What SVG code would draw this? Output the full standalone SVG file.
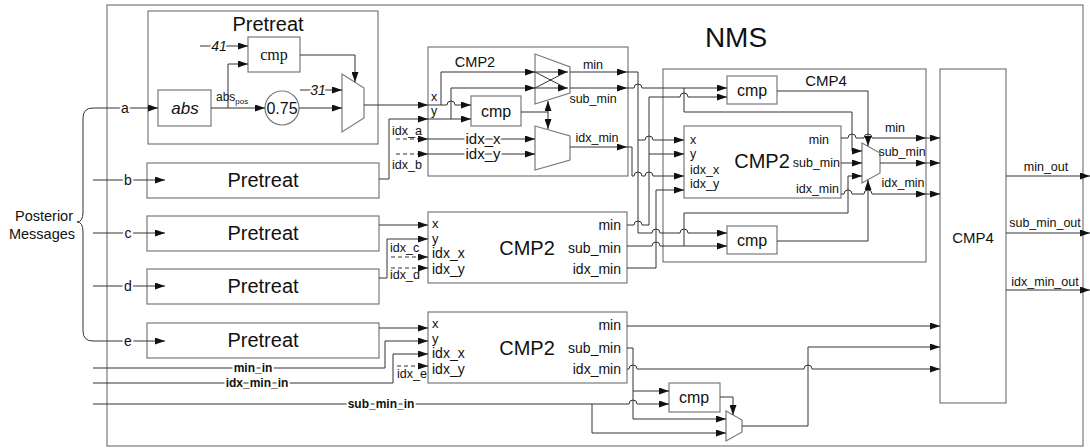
<svg xmlns="http://www.w3.org/2000/svg" width="1090" height="448" viewBox="0 0 1090 448">
<defs>
<style>
.box{fill:none;stroke:#7a7a7a;stroke-width:1.2}
.w{fill:none;stroke:#333;stroke-width:1}
.a{marker-end:url(#ah)}
.d{stroke-dasharray:4 3}
text{font-family:"Liberation Sans",Arial,sans-serif;fill:#111}
.h{stroke:#fff;stroke-width:4;paint-order:stroke;stroke-linejoin:round}
.s12{font-size:12.5px}
.s13{font-size:13px}
.s14{font-size:14px}
.big{font-size:20px}
.m{text-anchor:middle}
.e{text-anchor:end}
.bold{font-weight:bold;font-size:12px}
</style>
<marker id="ah" viewBox="0 0 10 7" refX="10" refY="3.5" markerWidth="10" markerHeight="7" markerUnits="userSpaceOnUse" orient="auto"><path d="M0,0 L10,3.5 L0,7 z" fill="#111"/></marker>
</defs>
<rect width="1090" height="448" fill="#fff"/>

<g id="nms">
<rect class="box" x="107" y="5" width="976" height="441"/>
<text x="736" y="47" class="m" style="font-size:28px">NMS</text>
</g>

<g id="posterior">
<path class="w" d="M93,108 Q83,108 83,118 V212 Q83,222 77,222 Q83,222 83,232 V331 Q83,341 93,341"/>
<text x="44" y="221" class="m" style="font-size:14.5px">Posterior</text>
<text x="42" y="239" class="m" style="font-size:14.5px">Messages</text>
</g>

<g id="pretreat-a">
<rect class="box" x="148" y="11" width="230" height="133"/>
<text x="268" y="31" class="m big">Pretreat</text>
<rect class="box" x="248" y="37" width="52" height="35"/>
<text x="274" y="60" class="m" style="font-family:'Liberation Serif',serif;font-size:16px">cmp</text>
<rect class="box" x="158" y="90" width="53" height="36"/>
<text x="185" y="114" class="m" style="font-size:17px;font-style:italic">abs</text>
<circle class="box" cx="282" cy="108" r="17"/>
<text x="282" y="114" class="m" style="font-size:16px">0.75</text>
<polygon class="box" points="342,74 364,88 364,118 342,132"/>
<text x="216" y="101" style="font-size:12px">abs<tspan style="font-size:8px" dy="3">pos</tspan></text>
</g>

<g id="pretreat-b">
<rect class="box" x="147" y="163" width="232" height="35"/>
<text x="263" y="187" class="m big">Pretreat</text>
</g>
<g id="pretreat-c">
<rect class="box" x="147" y="216" width="232" height="35"/>
<text x="263" y="240" class="m big">Pretreat</text>
</g>
<g id="pretreat-d">
<rect class="box" x="147" y="269" width="232" height="35"/>
<text x="263" y="293" class="m big">Pretreat</text>
</g>
<g id="pretreat-e">
<rect class="box" x="147" y="323" width="232" height="35"/>
<text x="263" y="347" class="m big">Pretreat</text>
</g>

<g id="cmp2-top">
<rect class="box" x="428" y="47" width="200" height="129"/>
<text x="475" y="67" class="m" style="font-size:14.5px">CMP2</text>
<text x="431" y="101" class="s12">x</text>
<text x="431" y="115" class="s12">y</text>
<rect class="box" x="471" y="96" width="50" height="30"/>
<text x="496" y="117" class="m" style="font-size:16px">cmp</text>
<polygon class="box" points="535,54 570,67 570,93 535,104"/>
<polygon class="box" points="535,126 570,136 570,160 535,170"/>
<text x="593" y="69" class="m s12">min</text>
<text x="593" y="103" class="m s12">sub_min</text>
<text x="597" y="142" class="m s12">idx_min</text>
</g>

<g id="cmp2-mid">
<rect class="box" x="428" y="212" width="199" height="71"/>
<text x="432" y="228" class="s13">x</text>
<text x="432" y="243" class="s13">y</text>
<text x="432" y="258" class="s14">idx_x</text>
<text x="432" y="274" class="s14">idx_y</text>
<text x="527" y="255" class="m big">CMP2</text>
<text x="621" y="230" class="e s14">min</text>
<text x="621" y="253" class="e s14">sub_min</text>
<text x="621" y="274" class="e s14">idx_min</text>
</g>

<g id="cmp2-bot">
<rect class="box" x="428" y="312" width="199" height="71"/>
<text x="432" y="328" class="s13">x</text>
<text x="432" y="343" class="s13">y</text>
<text x="432" y="358" class="s14">idx_x</text>
<text x="432" y="374" class="s14">idx_y</text>
<text x="527" y="355" class="m big">CMP2</text>
<text x="621" y="330" class="e s14">min</text>
<text x="621" y="353" class="e s14">sub_min</text>
<text x="621" y="374" class="e s14">idx_min</text>
</g>

<g id="cmp4-inner">
<rect class="box" x="663" y="69" width="263" height="193"/>
<text x="826" y="86" class="m" style="font-size:15px">CMP4</text>
<rect class="box" x="727" y="76" width="50" height="28"/>
<text x="752" y="96" class="m" style="font-size:16px">cmp</text>
<rect class="box" x="727" y="226" width="50" height="28"/>
<text x="752" y="246" class="m" style="font-size:16px">cmp</text>
<rect class="box" x="684" y="126" width="157" height="72"/>
<text x="690" y="144" class="s12">x</text>
<text x="690" y="158" class="s12">y</text>
<text x="690" y="174" class="s12">idx_x</text>
<text x="690" y="188" class="s12">idx_y</text>
<text x="762" y="168" class="m big">CMP2</text>
<text x="829" y="144" class="e s12">min</text>
<text x="840" y="167" class="e s12">sub_min</text>
<text x="839" y="193" class="e s12">idx_min</text>
<polygon class="box" points="862,143 880,153 880,173 862,183"/>
<text x="895" y="132" class="m s12">min</text>
<text x="902" y="156" class="m s12">sub_min</text>
<text x="903" y="187" class="m s12">idx_min</text>
</g>

<g id="cmp4-outer">
<rect class="box" x="940" y="69" width="66" height="334"/>
<text x="973" y="243" class="m" style="font-size:15px">CMP4</text>
<text x="1046" y="171" class="m s12">min_out</text>
<text x="1045" y="227" class="m s12">sub_min_out</text>
<text x="1045" y="286" class="m s12">idx_min_out</text>
</g>

<g id="final-select">
<rect class="box" x="669" y="383" width="51" height="29"/>
<text x="694" y="403" class="m" style="font-size:16px">cmp</text>
<polygon class="box" points="726,411 742,420 742,432 726,441"/>
</g>

<g id="connectors">
<path class="w a" d="M93,108 H158"/>
<path class="w a" d="M200,46 H248"/>
<path class="w a" d="M211,108 H265"/>
<path class="w a" d="M228,108 V64 H248"/>
<path class="w a" d="M299,108 H342"/>
<path class="w a" d="M300,90 H342"/>
<path class="w a" d="M300,55 H355 V82"/>
<path class="w a" d="M364,105 H428"/>
<path class="w a" d="M93,180 H165"/>
<path class="w a" d="M93,233 H165"/>
<path class="w a" d="M93,286 H165"/>
<path class="w a" d="M93,341 H165"/>
<path class="w a" d="M379,179 H389 V119 H428"/>
<path class="w a" d="M379,225 H428"/>
<path class="w a" d="M379,278 H387 V239 H428"/>
<path class="w a" d="M379,328 H428"/>
<path class="w a" d="M93,368 H385 V341 H428"/>
<path class="w a" d="M93,383 H393 V354 H428"/>
<path class="w a" d="M93,404 H629 a4,4 0 0 1 8,0 H669"/>
<path class="w a" d="M592,404 V433 H726"/>
<path class="w a d" d="M396,139 H428"/>
<path class="w a d" d="M396,154 H428"/>
<path class="w a d" d="M391,257 H428"/>
<path class="w a d" d="M391,268 H428"/>
<path class="w a d" d="M397,366 H428"/>
<path class="w a" d="M428,105 H441 V72 H535"/>
<path class="w a" d="M441,105 H447 a4,4 0 0 1 8,0 H471"/>
<path class="w a" d="M428,119 H471"/>
<path class="w a" d="M451,119 V88 H535"/>
<path class="w a" d="M535,72 H568"/>
<path class="w a" d="M535,88 H568"/>
<path class="w" d="M535,72 L566,88 M535,88 L566,72"/>
<path class="w a" d="M570,72 H627"/>
<path class="w a" d="M570,88 H627"/>
<path class="w" d="M521,112 H548"/>
<path class="w a" d="M548,112 V101"/>
<path class="w a" d="M548,112 V129"/>
<path class="w a" d="M428,139 H535"/>
<path class="w a" d="M428,154 H535"/>
<path class="w a" d="M570,147 H627"/>
<path class="w a" d="M627,72 H638 V233 H652 a4,4 0 0 1 8,0 H680 a4,4 0 0 1 8,0 H727"/>
<path class="w a" d="M638,140 H645 a4,4 0 0 1 8,0 H684"/>
<path class="w a" d="M627,88 H634 a4,4 0 0 1 8,0 H727"/>
<path class="w a" d="M684,88 V112 H852 V151 H862"/>
<path class="w a" d="M627,225 H634 a4,4 0 0 1 8,0 H649 V97 H680 a4,4 0 0 1 8,0 H727"/>
<path class="w a" d="M649,154 H684"/>
<path class="w a" d="M627,147 H632 V176 H634 a4,4 0 0 1 8,0 H645 a4,4 0 0 1 8,0 H684"/>
<path class="w a" d="M627,268 H656 V190 H684"/>
<path class="w a" d="M627,246 H652 a4,4 0 0 1 8,0 H727"/>
<path class="w a" d="M684,246 V213 H848 V176 H862"/>
<path class="w a" d="M841,138 H848 a4,4 0 0 1 8,0 H864 a4,4 0 0 1 8,0 H926"/>
<path class="w a" d="M926,138 H940"/>
<path class="w a" d="M841,163 H862"/>
<path class="w a" d="M880,163 H926"/>
<path class="w a" d="M926,163 H940"/>
<path class="w a" d="M841,194 H844 a4,4 0 0 1 8,0 H864 a4,4 0 0 1 8,0 H926"/>
<path class="w a" d="M926,194 H940"/>
<path class="w a" d="M777,91 H868 V146"/>
<path class="w a" d="M777,241 H868 V180"/>
<path class="w a" d="M627,326 H940"/>
<path class="w a" d="M627,348 H633 V419 H726"/>
<path class="w a" d="M633,391 H669"/>
<path class="w a" d="M627,369 H629 a4,4 0 0 1 8,0 H804 a4,4 0 0 1 8,0 H940"/>
<path class="w a" d="M742,426 H808 V347 H940"/>
<path class="w a" d="M720,397 H733 V415"/>
<path class="w a" d="M1006,176 H1090"/>
<path class="w a" d="M1006,233 H1090"/>
<path class="w a" d="M1006,290 H1090"/>
<text x="125" y="113" class="m s14 h">a</text>
<text x="128" y="185" class="m s14 h">b</text>
<text x="128" y="238" class="m s14 h">c</text>
<text x="128" y="291" class="m s14 h">d</text>
<text x="128" y="346" class="m s14 h">e</text>
<text x="219" y="51" class="m h" style="font-size:14px;font-style:italic">41</text>
<text x="318" y="95" class="m h" style="font-size:14px;font-style:italic">31</text>
<text x="483" y="144" class="m h" style="font-size:15px">idx_x</text>
<text x="483" y="159" class="m h" style="font-size:15px">idx_y</text>
<text x="253" y="372" class="m bold h">min_in</text>
<text x="257" y="387" class="m bold h">idx_min_in</text>
<text x="381" y="408" class="m bold h">sub_min_in</text>
<text x="392" y="135" class="s12">idx_a</text>
<text x="392" y="169" class="s12">idx_b</text>
<text x="390" y="252" class="s12">idx_c</text>
<text x="390" y="279" class="s12">idx_d</text>
<text x="397" y="378" class="s12">idx_e</text>
</g>
</svg>
